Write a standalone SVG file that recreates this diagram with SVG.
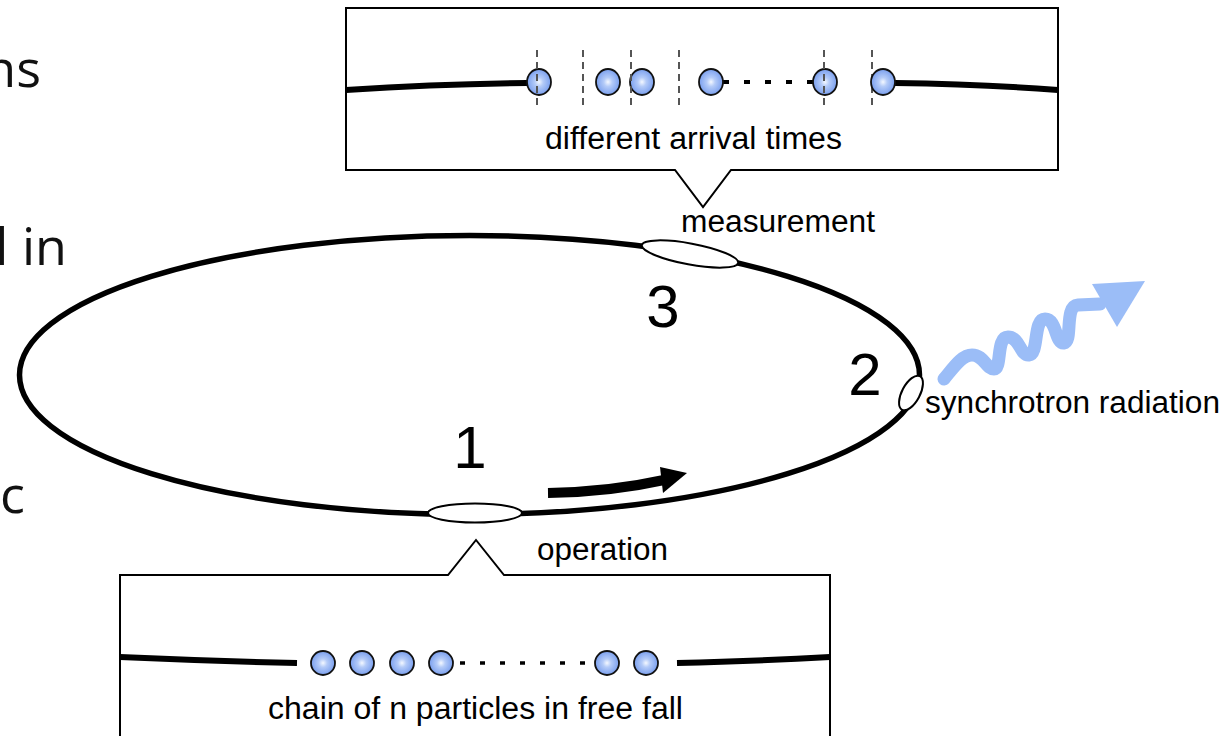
<svg xmlns="http://www.w3.org/2000/svg" width="1227" height="736" viewBox="0 0 1227 736">
<defs>
<radialGradient id="pg" cx="0.5" cy="0.5" r="0.5">
<stop offset="0" stop-color="#f4f8ff"/>
<stop offset="0.35" stop-color="#b4cbf8"/>
<stop offset="1" stop-color="#7a9fee"/>
</radialGradient>
<style>
.t{font-family:"Liberation Sans",Arial,sans-serif;fill:#000}
.lbl{font-size:31px}
.num{font-size:60px;text-anchor:middle}
.side{font-family:"Open Sans","DejaVu Sans",sans-serif;font-size:52px;fill:#111;text-anchor:end}
.beam{fill:none;stroke:#000;stroke-width:6}
.box{fill:#fff;stroke:#000;stroke-width:2}
.p{fill:url(#pg);stroke:#111;stroke-width:1.8}
.dash{stroke:#555;stroke-width:2;stroke-dasharray:7 5}
.st{fill:#fff;stroke:#000;stroke-width:2}
</style>
</defs>
<rect width="1227" height="736" fill="#fff"/>
<g id="side-text">
<text class="side" x="41" y="87">ns</text>
<text class="side" x="67" y="265">l in</text>
<text class="side" x="25" y="513">c</text>
</g>
<g id="ring">
<ellipse cx="469.5" cy="375" rx="450" ry="139.5" fill="none" stroke="#000" stroke-width="5.5"/>
</g>
<g id="station1">
<ellipse class="st" cx="475" cy="513" rx="47" ry="9.5"/>
<text class="t num" x="470" y="468">1</text>
</g>
<g id="station2">
<ellipse class="st" cx="911" cy="393" rx="9" ry="19" transform="rotate(28 911 393)"/>
<text class="t num" x="865" y="395">2</text>
</g>
<g id="station3">
<ellipse class="st" cx="690" cy="254" rx="49" ry="10.5" transform="rotate(10.5 690 254)"/>
<text class="t num" x="663" y="327">3</text>
</g>
<g id="measurement-box">
<path class="box" d="M346,8 H1058 V170 H731 L703,207 L675,170 H346 Z"/>
<path class="beam" d="M346,90 Q440,84 527,83"/>
<path class="beam" d="M895,83 Q980,84 1058,90"/>
<line x1="723" y1="82" x2="814" y2="82" stroke="#000" stroke-width="4" stroke-dasharray="6 15"/>
<g>
<line class="dash" x1="583" y1="50" x2="583" y2="110"/>
<line class="dash" x1="679" y1="50" x2="679" y2="110"/>
<line class="dash" x1="872" y1="50" x2="872" y2="110"/>
</g>
<ellipse class="p" cx="539" cy="82" rx="12" ry="13"/>
<ellipse class="p" cx="608" cy="82" rx="12" ry="13"/>
<ellipse class="p" cx="642" cy="82" rx="12" ry="13"/>
<ellipse class="p" cx="711" cy="82" rx="12" ry="13"/>
<ellipse class="p" cx="825" cy="82" rx="12" ry="13"/>
<ellipse class="p" cx="883" cy="82" rx="12" ry="13"/>
<line class="dash" x1="537" y1="50" x2="537" y2="110"/>
<line class="dash" x1="631" y1="50" x2="631" y2="110"/>
<line class="dash" x1="824" y1="50" x2="824" y2="110"/>
<text class="t lbl" x="545" y="149" textLength="297" lengthAdjust="spacingAndGlyphs">different arrival times</text>
</g>
<g id="operation-box">
<path class="box" d="M120,745 V575 H448 L476,540 L504,575 H830 V745"/>
<path class="beam" d="M120,657 Q210,661 297,663"/>
<path class="beam" d="M677,663 Q760,661 830,657"/>
<line x1="460" y1="663" x2="592" y2="663" stroke="#000" stroke-width="3.5" stroke-dasharray="5 15"/>
<circle class="p" cx="323" cy="663" r="12"/>
<circle class="p" cx="362" cy="663" r="12"/>
<circle class="p" cx="402" cy="663" r="12"/>
<circle class="p" cx="441" cy="663" r="12"/>
<circle class="p" cx="607" cy="663" r="12"/>
<circle class="p" cx="646" cy="663" r="12"/>
<text class="t lbl" x="268" y="719" textLength="415" lengthAdjust="spacingAndGlyphs">chain of n particles in free fall</text>
</g>
<g id="labels">
<text class="t lbl" x="681" y="232" textLength="194" lengthAdjust="spacingAndGlyphs">measurement</text>
<text class="t lbl" x="537" y="560" textLength="131" lengthAdjust="spacingAndGlyphs">operation</text>
<text class="t lbl" x="925" y="413" textLength="295" lengthAdjust="spacingAndGlyphs">synchrotron radiation</text>
</g>
<g id="connectors">
<path d="M548,493 Q610,492 664,480" fill="none" stroke="#000" stroke-width="10"/>
<polygon points="660,467 687,473 663,493" fill="#000"/>
<path d="M944,379 C954,367 962,355 972,355 C984,355 986,369 994,369 C1002,369 996,337 1008,337 C1020,337 1020,356 1029,355 C1039,354 1033,319 1045,319 C1057,319 1055,344 1064,343 C1073,342 1064,306 1078,305 L1100,304" fill="none" stroke="#9bbdf7" stroke-width="13" stroke-linecap="round" stroke-linejoin="round"/>
<polygon points="1092,284 1145,281 1117,327" fill="#9bbdf7"/>
</g>
</svg>
